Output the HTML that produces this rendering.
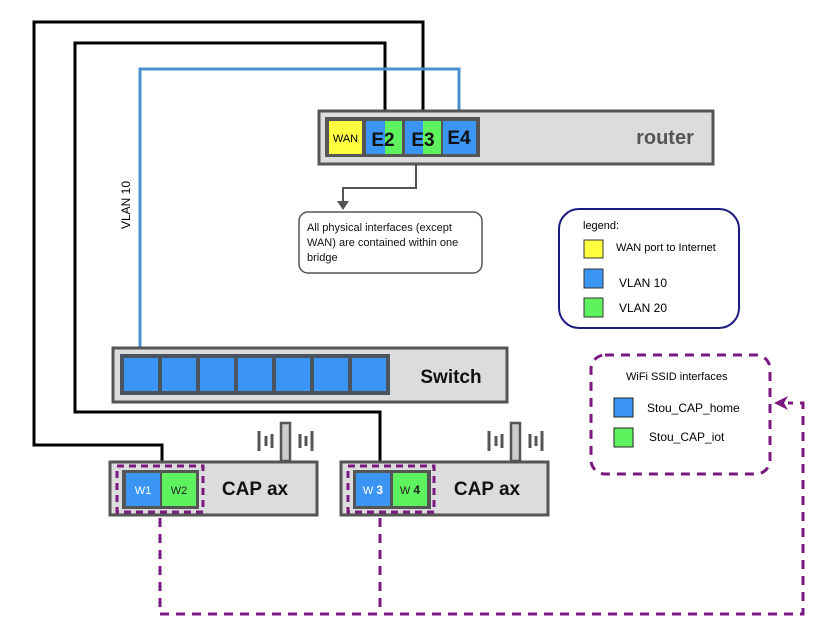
<!DOCTYPE html>
<html><head><meta charset="utf-8"><style>
body{margin:0;background:#fff}
svg{display:block}
text{font-family:"Liberation Sans",sans-serif}
.b{font-family:"Liberation Sans",sans-serif;font-weight:bold}
</style></head><body>
<svg width="831" height="640" viewBox="0 0 831 640" xmlns="http://www.w3.org/2000/svg">
<polyline points="423,110 423,22 34,22 34,445 162,445 162,462" fill="none" stroke="#000" stroke-width="3"/>
<polyline points="385,110 385,43 75,43 75,412 380,412 380,462" fill="none" stroke="#000" stroke-width="3"/>
<polyline points="459,110 459,69 140,69 140,348" fill="none" stroke="#4a90d0" stroke-width="3"/>
<text x="130" y="205" font-size="12" transform="rotate(-90 130 205)" text-anchor="middle">VLAN 10</text>

<rect x="319" y="111" width="394" height="53" fill="#dcdcdc" stroke="#555" stroke-width="3"/>
<rect x="325" y="117" width="155" height="40" fill="#555"/>
<rect x="329" y="121" width="33" height="33" fill="#ffff40"/>
<text x="345.5" y="142" font-size="11" text-anchor="middle">WAN</text>
<rect x="366" y="121" width="36" height="33" fill="#3a95f5"/>
<rect x="385" y="121" width="17" height="33" fill="#5ef35e"/>
<rect x="405" y="121" width="36" height="33" fill="#3a95f5"/>
<rect x="423" y="121" width="18" height="33" fill="#5ef35e"/>
<rect x="443" y="121" width="33" height="33" fill="#3a95f5"/>
<text class="b" x="383" y="146" font-size="19" text-anchor="middle" fill="#111">E2</text>
<text class="b" x="423" y="146" font-size="19" text-anchor="middle" fill="#111">E3</text>
<text class="b" x="459" y="144" font-size="19" text-anchor="middle" fill="#111">E4</text>
<text class="b" x="665" y="144" font-size="20" text-anchor="middle" fill="#555">router</text>

<polyline points="416,165 416,188 343,188 343,203" fill="none" stroke="#555" stroke-width="2"/>
<polygon points="337,201 349,201 343,210" fill="#555"/>
<rect x="299" y="212" width="183" height="61" rx="9" fill="#fff" stroke="#555" stroke-width="1.5"/>
<text font-size="11" fill="#111"><tspan x="307" y="231">All physical interfaces (except</tspan><tspan x="307" y="246">WAN) are contained within one</tspan><tspan x="307" y="261">bridge</tspan></text>

<rect x="559" y="209" width="180" height="119" rx="20" fill="#fff" stroke="#1c1c80" stroke-width="2"/>
<text x="583" y="229" font-size="11">legend:</text>
<rect x="584" y="240" width="19" height="18" fill="#ffff40" stroke="#333"/>
<text x="616" y="251" font-size="11">WAN port to Internet</text>
<rect x="584" y="269" width="19" height="19" fill="#3a95f5" stroke="#333"/>
<text x="619" y="287" font-size="12">VLAN 10</text>
<rect x="584" y="298" width="19" height="19" fill="#5ef35e" stroke="#333"/>
<text x="619" y="312" font-size="12">VLAN 20</text>

<rect x="113" y="348" width="394" height="54" fill="#dcdcdc" stroke="#555" stroke-width="3"/>
<rect x="120" y="354" width="270" height="41" fill="#4a5560"/>
<g fill="#3a95f5">
<rect x="124" y="358" width="34" height="33"/><rect x="162" y="358" width="34" height="33"/>
<rect x="200" y="358" width="34" height="33"/><rect x="238" y="358" width="34" height="33"/>
<rect x="276" y="358" width="34" height="33"/><rect x="314" y="358" width="34" height="33"/>
<rect x="352" y="358" width="34" height="33"/></g>
<text class="b" x="451" y="383" font-size="19" text-anchor="middle" fill="#111">Switch</text>

<g fill="none" stroke="#555" stroke-width="3">
<path d="M259,431v20M266,436v10M272,434v14M300,434v14M306,436v10M312,431v20"/>
<path d="M489,431v20M496,436v10M502,434v14M530,434v14M536,436v10M542,431v20"/>
</g>
<rect x="281" y="423" width="9" height="38" fill="#ccc" stroke="#555" stroke-width="2.5"/>
<rect x="511" y="423" width="9" height="38" fill="#ccc" stroke="#555" stroke-width="2.5"/>

<rect x="110" y="462" width="207" height="53" fill="#dcdcdc" stroke="#555" stroke-width="3"/>
<rect x="122" y="470" width="77" height="39" fill="#555"/>
<rect x="126" y="473" width="34" height="33" fill="#3a95f5"/>
<rect x="162" y="473" width="34" height="33" fill="#5ef35e"/>
<text x="143" y="494" font-size="11" text-anchor="middle" fill="#fff">W1</text>
<text x="179" y="494" font-size="11" text-anchor="middle" fill="#222">W2</text>
<rect x="117" y="466" width="86" height="46" fill="none" stroke="#7a1a80" stroke-width="3" stroke-dasharray="7,5"/>
<text class="b" x="255" y="495" font-size="19" text-anchor="middle" fill="#111">CAP ax</text>

<rect x="341" y="462" width="207" height="53" fill="#dcdcdc" stroke="#555" stroke-width="3"/>
<rect x="353" y="470" width="78" height="39" fill="#555"/>
<rect x="356" y="473" width="34" height="33" fill="#3a95f5"/>
<rect x="393" y="473" width="34" height="33" fill="#5ef35e"/>
<text x="373" y="494" font-size="11" text-anchor="middle" fill="#fff">W <tspan font-weight="bold" font-size="12">3</tspan></text>
<text x="410" y="494" font-size="11" text-anchor="middle" fill="#222">W <tspan font-weight="bold" font-size="12">4</tspan></text>
<rect x="348" y="466" width="86" height="46" fill="none" stroke="#7a1a80" stroke-width="3" stroke-dasharray="7,5"/>
<text class="b" x="487" y="495" font-size="19" text-anchor="middle" fill="#111">CAP ax</text>

<rect x="591" y="355" width="179" height="119" rx="14" fill="#fff" stroke="#7a1a80" stroke-width="3" stroke-dasharray="9,7"/>
<text x="626" y="380" font-size="11">WiFi SSID interfaces</text>
<rect x="614" y="398" width="19" height="19" fill="#3a95f5" stroke="#222"/>
<text x="647" y="412" font-size="12">Stou_CAP_home</text>
<rect x="614" y="428" width="19" height="19" fill="#5ef35e" stroke="#222"/>
<text x="649" y="441" font-size="12">Stou_CAP_iot</text>

<g fill="none" stroke="#7a1a80" stroke-width="3" stroke-dasharray="9,7">
<polyline points="160,518 160,614 803,614 803,403 788,403"/>
<polyline points="380,518 380,614"/>
</g>
<polygon points="774,403 788,396 784,403 788,410" fill="#7a1a80"/>
</svg>
</body></html>
